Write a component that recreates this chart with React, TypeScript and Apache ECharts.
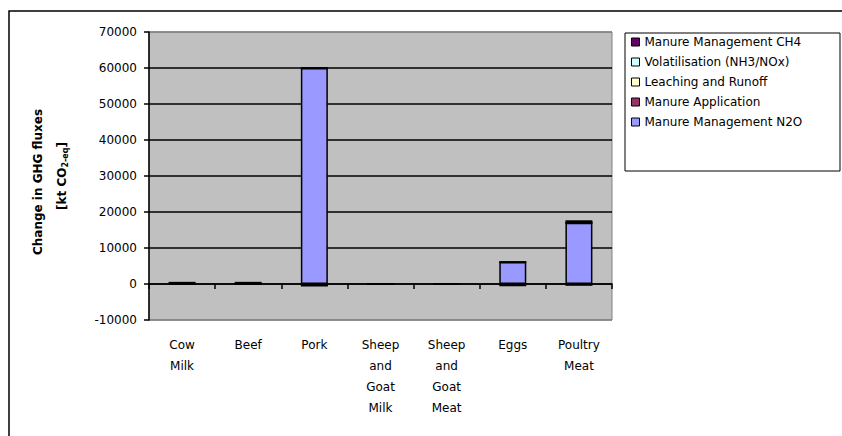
import React, { useEffect, useRef } from "react";
import * as echarts from "echarts";

const categories = ["Cow Milk", "Beef", "Pork", "Sheep and Goat Milk", "Sheep and Goat Meat", "Eggs", "Poultry Meat"];
const manureManagementN2O = [0, 0, 60000, 0, 0, 6100, 17000];
const manureApplication = [0, 0, 0, 0, 0, 0, 0];
const leachingRunoff = [0, 0, 0, 0, 0, 0, 0];
const volatilisation = [0, 0, -500, 0, 0, -400, -500];
const manureManagementCH4 = [600, 600, 0, 0, 0, 0, 700];
const yTicks = { min: -10000, max: 70000, interval: 10000 };

const FONT = "DejaVu Sans";

export default function App() {
  const ref = useRef<HTMLDivElement>(null);
  useEffect(() => {
    if (!ref.current) return;
    const chart = echarts.init(ref.current, null, { renderer: "svg" });
    const bar = (name: string, data: number[], color: string) => ({
      name,
      type: "bar",
      stack: "total",
      data,
      barWidth: 27,
      xAxisIndex: 0,
      itemStyle: { color, borderColor: "#000", borderWidth: 1.5 },
    });
    chart.setOption({
      animation: false,
      textStyle: { fontFamily: FONT },
      grid: {
        left: 149,
        top: 32,
        right: 230,
        bottom: 116,
        show: true,
        backgroundColor: "#C0C0C0",
        borderColor: "#808080",
        borderWidth: 1,
      },
      legend: {
        orient: "vertical",
        left: 631,
        top: 36,
        padding: 0,
        itemWidth: 8,
        itemHeight: 8,
        itemGap: 8,
        icon: "rect",
        itemStyle: { borderWidth: 1, borderColor: "#000" },
        textStyle: { fontSize: 12, lineHeight: 12, color: "#000", fontFamily: FONT },
        data: [
          "Manure Management CH4",
          "Volatilisation (NH3/NOx)",
          "Leaching and Runoff",
          "Manure Application",
          "Manure Management N2O",
        ],
      },
      xAxis: [
        {
          type: "category",
          data: categories,
          position: "bottom",
          axisLine: { show: true, onZero: true, lineStyle: { color: "#000", width: 1.5 } },
          axisTick: { show: true, interval: 0, length: 5, lineStyle: { color: "#000", width: 1.5 } },
          axisLabel: { show: false, interval: 0 },
          splitLine: { show: false },
        },
        {
          type: "category",
          data: categories,
          position: "bottom",
          axisLine: { show: false, onZero: false },
          axisTick: { show: false },
          splitLine: { show: false },
          axisLabel: {
            show: true,
            interval: 0,
            margin: 14,
            fontSize: 12,
            lineHeight: 21,
            color: "#000",
            fontFamily: FONT,
            formatter: (v: string) => v.split(" ").join("\n"),
          },
        },
      ],
      yAxis: {
        type: "value",
        min: yTicks.min,
        max: yTicks.max,
        interval: yTicks.interval,
        axisLine: { show: true, lineStyle: { color: "#000", width: 1.5 } },
        axisTick: { show: true, length: 5, lineStyle: { color: "#000", width: 1.5 } },
        axisLabel: { color: "#000", fontSize: 12, margin: 12, fontFamily: FONT, formatter: (v: number) => String(v) },
        splitLine: {
          show: true,
          lineStyle: {
            color: ["#808080", "#000", "#000", "#000", "#000", "#000", "#000", "#000", "#808080"],
            width: 1.5,
          },
        },
      },
      series: [
        bar("Manure Management N2O", manureManagementN2O, "#9999FF"),
        bar("Manure Application", manureApplication, "#993366"),
        bar("Leaching and Runoff", leachingRunoff, "#FFFFCC"),
        bar("Volatilisation (NH3/NOx)", volatilisation, "#CCFFFF"),
        bar("Manure Management CH4", manureManagementCH4, "#660066"),
      ],
      graphic: [
        {
          type: "rect",
          silent: true,
          shape: { x: 9, y: 11, width: 845, height: 440 },
          style: { fill: "none", stroke: "#000", lineWidth: 1.5 },
        },
        {
          type: "rect",
          silent: true,
          shape: { x: 625, y: 33, width: 215, height: 138 },
          style: { fill: "none", stroke: "#000", lineWidth: 1 },
        },
        {
          type: "text",
          x: 38,
          y: 182,
          rotation: Math.PI / 2,
          style: {
            text: "Change in GHG fluxes",
            font: `bold 12px "${FONT}"`,
            fill: "#000",
            align: "center",
            verticalAlign: "middle",
          },
        },
        {
          type: "text",
          x: 60,
          y: 176,
          rotation: Math.PI / 2,
          style: {
            text: "{b|[kt CO}{s|2-eq}{b|]}",
            fill: "#000",
            align: "center",
            verticalAlign: "middle",
            rich: {
              b: { fontSize: 12, fontWeight: "bold", fontFamily: FONT, lineHeight: 16, verticalAlign: "bottom", fill: "#000" },
              s: { fontSize: 8, fontWeight: "bold", fontFamily: FONT, lineHeight: 16, verticalAlign: "top", padding: [9, 0, 0, 0], fill: "#000" },
            },
          },
        },
      ],
    });
    return () => chart.dispose();
  }, []);
  return (
    <div
      ref={ref}
      style={{ position: "absolute", left: 0, top: 0, width: 842, height: 436, background: "#fff" }}
    />
  );
}
